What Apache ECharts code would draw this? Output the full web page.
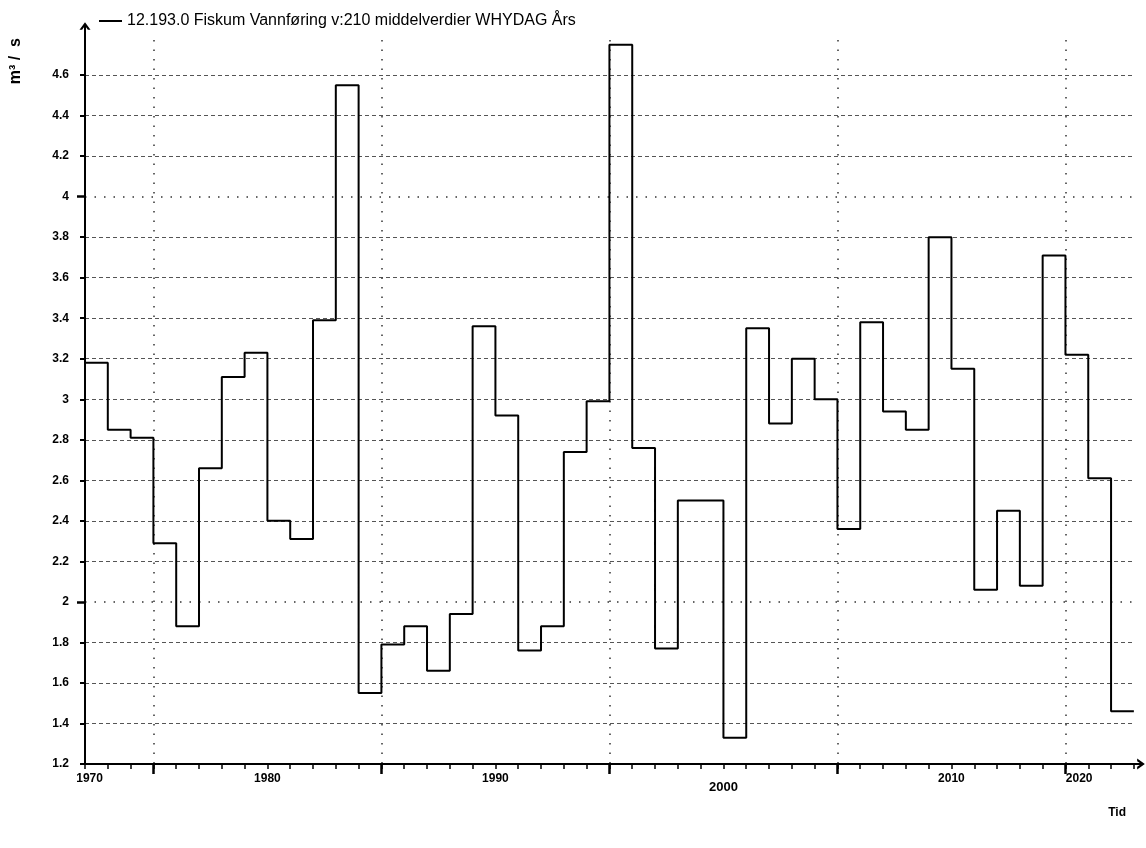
<!DOCTYPE html>
<html>
<head>
<meta charset="utf-8">
<script src="https://cdn.jsdelivr.net/npm/echarts@6/dist/echarts.min.js"></script>
<style>
html, body { margin: 0; padding: 0; background: #fff; }
#chart { width: 1146px; height: 848px; }
</style>
</head>
<body>
<div id="chart"></div>
<script>
// årsmiddel vannføring, ett trinn per år
var startYear = 1972;
var flow = [3.18, 2.85, 2.81, 2.29, 1.88, 2.66, 3.11, 3.23, 2.40, 2.31,
            3.39, 4.55, 1.55, 1.79, 1.88, 1.66, 1.94, 3.36, 2.92, 1.76,
            1.88, 2.74, 2.99, 4.75, 2.76, 1.77, 2.50, 2.50, 1.33, 3.35,
            2.88, 3.20, 3.00, 2.36, 3.38, 2.94, 2.85, 3.80, 3.15, 2.06,
            2.45, 2.08, 3.71, 3.22, 2.61, 1.46];
var majorTicks = [1975, 1985, 1995, 2005, 2015];
var xLabelPos = [1972.2, 1980, 1990, 2000, 2010, 2015.6];
var xLabelText = ['1970', '1980', '1990', '2000', '2010', '2020'];
var yTicks = [1.2, 1.4, 1.6, 1.8, 2, 2.2, 2.4, 2.6, 2.8, 3, 3.2, 3.4, 3.6, 3.8, 4, 4.2, 4.4, 4.6];
var yStrong = [2, 4];

var minorTicks = [];
for (var i = 0; i <= flow.length; i++) minorTicks.push(startYear + i);
var yDashed = yTicks.filter(function (v) { return yStrong.indexOf(v) < 0; });

var stepData = flow.map(function (v, i) { return [startYear + i, v]; });
stepData.push([startYear + flow.length, flow[flow.length - 1]]);

var xMin = startYear, xMax = 2018.05;
var yMin = 1.2, yMax = 4.773;
var font = 'Liberation Sans';
var chevron = 'path://M0,7L5,0L10,7L7.6,7L5,3.2L2.4,7Z';

var myChart = echarts.init(document.getElementById('chart'));
myChart.setOption({
    animation: false,
    legend: {
        left: 94,
        top: 8,
        icon: 'rect',
        itemWidth: 23,
        itemHeight: 2,
        itemGap: 6,
        textStyle: { fontFamily: font, fontSize: 16, color: '#000' },
        data: ['12.193.0 Fiskum Vannføring v:210 middelverdier WHYDAG Års']
    },
    title: {
        text: 'Tid',
        right: 15,
        top: 802,
        textStyle: { fontFamily: font, fontSize: 12, fontWeight: 'bold', color: '#000' }
    },
    graphic: [{
        type: 'text',
        left: 8,
        top: 38,
        rotation: Math.PI / 2,
        style: { text: 'm³ /  s', font: 'bold 16px "Liberation Sans"', fill: '#000' }
    }],
    grid: [
        { left: 85, right: 11, top: 40, bottom: 84 },
        { left: 85, right: 5, top: 26, bottom: 84 }
    ],
    xAxis: [
        {
            type: 'value', gridIndex: 0, position: 'bottom', min: xMin, max: xMax,
            axisLine: { show: false },
            axisTick: { customValues: minorTicks, length: 5, lineStyle: { color: '#000', width: 1.5 } },
            axisLabel: {
                customValues: xLabelPos,
                margin: 9,
                fontFamily: font, fontSize: 12, fontWeight: 'bold', color: '#000',
                formatter: function (v) {
                    var k = 0;
                    for (var j = 0; j < xLabelPos.length; j++) {
                        if (Math.abs(xLabelPos[j] - v) < Math.abs(xLabelPos[k] - v)) k = j;
                    }
                    return xLabelText[k] === '2000' ? '{lo|2000}' : xLabelText[k];
                },
                rich: { lo: { padding: [8, 0, 0, 0], fontFamily: font, fontSize: 13, fontWeight: 'bold', color: '#000' } }
            },
            splitLine: { show: false }
        },
        {
            type: 'value', gridIndex: 0, position: 'bottom', min: xMin, max: xMax,
            axisLine: { show: false },
            axisTick: { customValues: majorTicks, length: 10, lineStyle: { color: '#000', width: 2.5 } },
            axisLabel: { show: false },
            splitLine: { show: true, lineStyle: { color: '#333', width: 1.5, type: [1.5, 8] } }
        },
        {
            type: 'value', gridIndex: 1, min: 0, max: 1,
            axisLine: { show: true, onZero: false, symbol: ['none', chevron], symbolSize: [11, 8], lineStyle: { color: '#000', width: 2 } },
            axisTick: { show: false }, axisLabel: { show: false }, splitLine: { show: false }
        }
    ],
    yAxis: [
        {
            type: 'value', gridIndex: 0, position: 'left', min: yMin, max: yMax,
            axisLine: { show: false },
            axisTick: { customValues: yDashed, length: 5, lineStyle: { color: '#000', width: 2 } },
            axisLabel: {
                customValues: yTicks,
                margin: 16,
                fontFamily: font, fontSize: 12, fontWeight: 'bold', color: '#000',
                formatter: function (v) { return String(v); }
            },
            splitLine: { show: true, lineStyle: { color: '#555', width: 1, type: [4, 3] } }
        },
        {
            type: 'value', gridIndex: 0, position: 'left', min: yMin, max: yMax,
            axisLine: { show: false },
            axisTick: { customValues: yStrong, length: 8, lineStyle: { color: '#000', width: 2.5 } },
            axisLabel: { show: false },
            splitLine: { show: true, lineStyle: { color: '#333', width: 1.5, type: [1.5, 8] } }
        },
        {
            type: 'value', gridIndex: 1, min: 0, max: 1,
            axisLine: { show: true, onZero: false, symbol: ['none', chevron], symbolSize: [11, 8], lineStyle: { color: '#000', width: 2 } },
            axisTick: { show: false }, axisLabel: { show: false }, splitLine: { show: false }
        }
    ],
    series: [{
        name: '12.193.0 Fiskum Vannføring v:210 middelverdier WHYDAG Års',
        type: 'line',
        xAxisIndex: 0,
        yAxisIndex: 0,
        step: 'end',
        symbol: 'none',
        itemStyle: { color: '#000' },
        lineStyle: { color: '#000', width: 2 },
        data: stepData
    }]
});
</script>
</body>
</html>
